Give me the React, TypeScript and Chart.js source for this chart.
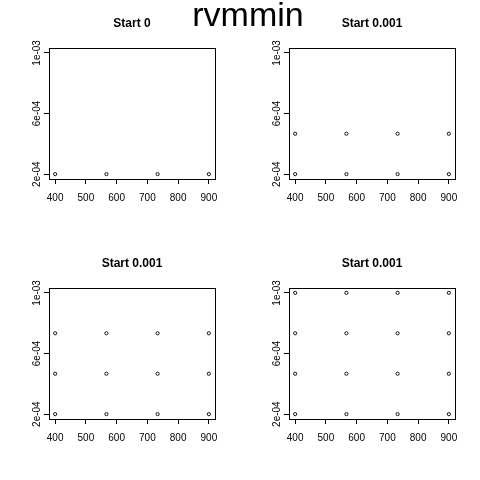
import React, { useEffect, useRef } from "react";
import { Chart, registerables } from "chart.js";
Chart.register(...registerables);

const mainTitle = "rvmmin";
const panelTitles = ["Start 0", "Start 0.001", "Start 0.001", "Start 0.001"];
const xValues = [400, 566.67, 733.33, 900];
const yLevels = [2e-4, 4.667e-4, 7.333e-4, 1e-3];
const levelsPerPanel = [1, 2, 3, 4];
const xTicks = [400, 500, 600, 700, 800, 900];
const yTicks = [2e-4, 6e-4, 1e-3];
const yTickLabels = ["2e-04", "6e-04", "1e-03"];

const FONT = "'Liberation Sans', Arial, sans-serif";

function Panel({ idx, left, top }: { idx: number; left: number; top: number }) {
  const ref = useRef<HTMLCanvasElement>(null);
  useEffect(() => {
    const pts: { x: number; y: number }[] = [];
    for (let l = 0; l < levelsPerPanel[idx]; l++)
      for (const x of xValues) pts.push({ x, y: yLevels[l] });
    const boxPlugin = {
      id: "box",
      afterDraw(c: any) {
        const { ctx, chartArea: a } = c;
        ctx.save();
        ctx.strokeStyle = "#000";
        ctx.lineWidth = 1;
        ctx.strokeRect(a.left + 0.5, a.top + 0.5, a.right - a.left, a.bottom - a.top);
        ctx.fillStyle = "#000";
        ctx.font = `bold 12px ${FONT}`;
        ctx.textAlign = "center";
        ctx.textBaseline = "middle";
        ctx.fillText(panelTitles[idx], (a.left + a.right) / 2, 24);
        ctx.font = `10px ${FONT}`;
        const ys = c.scales.y;
        yTicks.forEach((t, i) => {
          const py = ys.getPixelForValue(t);
          ctx.save();
          ctx.translate(a.left - 12, py);
          ctx.rotate(-Math.PI / 2);
          ctx.fillText(yTickLabels[i], 0, 0);
          ctx.restore();
        });
        ctx.restore();
      },
    };
    const chart = new Chart(ref.current!, {
      type: "scatter",
      data: {
        datasets: [
          {
            data: pts,
            pointRadius: 1.6,
            pointBorderWidth: 0.9,
            pointBorderColor: "#000",
            pointBackgroundColor: "rgba(0,0,0,0)",
          },
        ],
      },
      options: {
        animation: false,
        responsive: false,
        layout: { padding: { top: 48, right: 25, left: 0, bottom: 0 } },
        plugins: { legend: { display: false }, tooltip: { enabled: false } },
        scales: {
          x: {
            min: 380,
            max: 920,
            afterBuildTicks: (s: any) => { s.ticks = xTicks.map((v) => ({ value: v })); },
            afterFit: (s: any) => { s.height = 61; },
            grid: { drawOnChartArea: false, drawTicks: true, tickLength: 5, color: "#000" },
            border: { display: true, color: "#000" },
            ticks: { color: "#000", font: { family: FONT, size: 10 }, padding: 8, maxRotation: 0, autoSkip: false },
          },
          y: {
            min: 1.68e-4,
            max: 1.032e-3,
            afterBuildTicks: (s: any) => { s.ticks = yTicks.map((v) => ({ value: v })); },
            afterFit: (s: any) => { s.width = 49; },
            grid: { drawOnChartArea: false, drawTicks: true, tickLength: 5, color: "#000" },
            border: { display: true, color: "#000" },
            ticks: { color: "rgba(0,0,0,0)", autoSkip: false, callback: () => "" },
          },
        },
      },
      plugins: [boxPlugin],
    });
    return () => chart.destroy();
  }, [idx]);
  return (
    <canvas
      ref={ref}
      width={240}
      height={240}
      style={{ position: "fixed", left, top, width: 240, height: 240 }}
    />
  );
}

export default function App() {
  return (
    <div style={{ position: "fixed", left: 0, top: 0, width: 480, height: 480, background: "#fff" }}>
      <Panel idx={0} left={0} top={0} />
      <Panel idx={1} left={240} top={0} />
      <Panel idx={2} left={0} top={240} />
      <Panel idx={3} left={240} top={240} />
      <div
        style={{
          position: "fixed",
          left: 0,
          top: -6,
          width: 496,
          textAlign: "center",
          fontFamily: FONT,
          fontSize: 34,
          color: "#000",
          lineHeight: "40px",
        }}
      >
        {mainTitle}
      </div>
    </div>
  );
}
